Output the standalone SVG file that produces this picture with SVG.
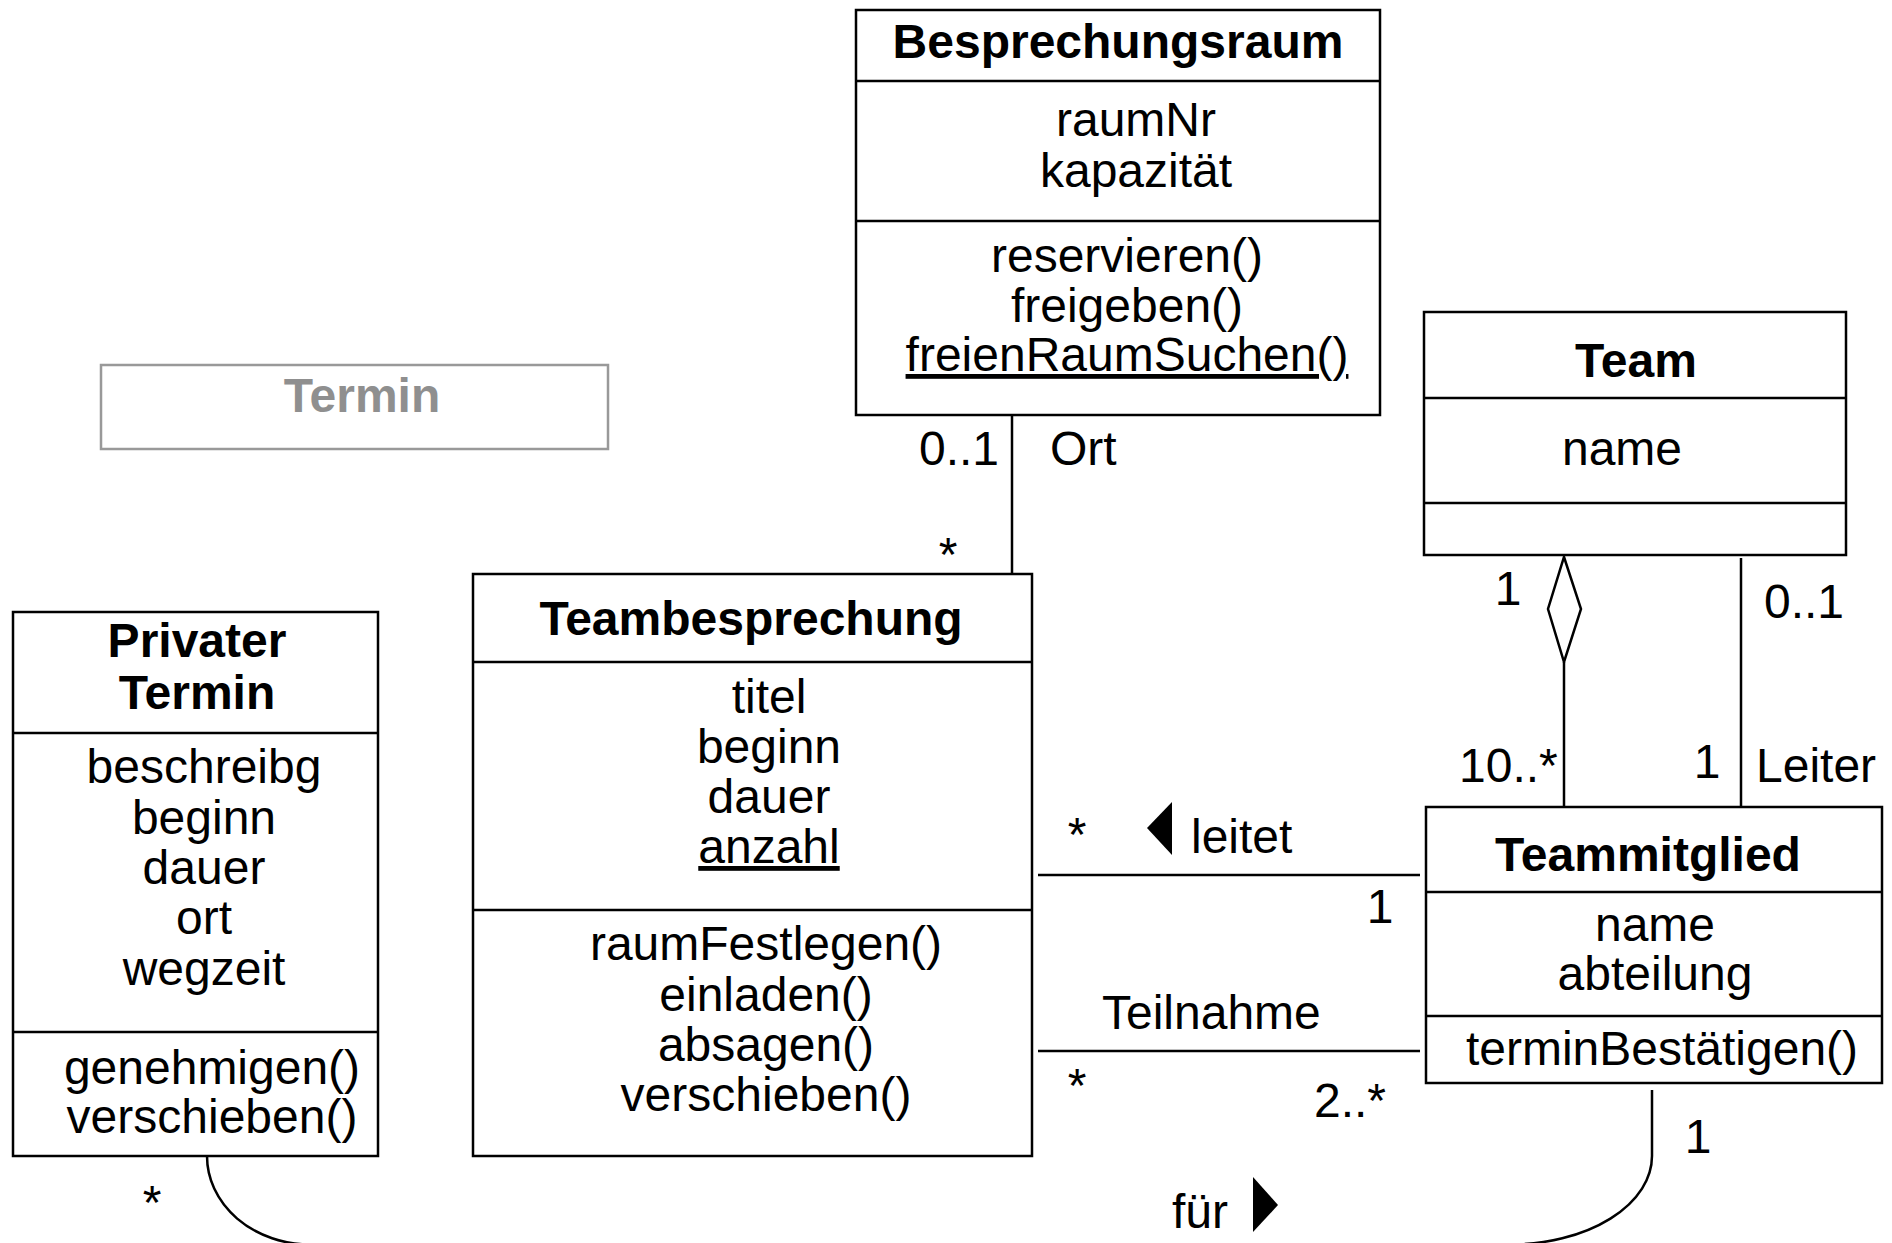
<svg xmlns="http://www.w3.org/2000/svg" width="1892" height="1243" viewBox="0 0 1892 1243">
<style>
.box{fill:#fff;stroke:#000;stroke-width:2.5}
.div{stroke:#000;stroke-width:2.5}
.t{font-family:"Liberation Sans",Arial,sans-serif;font-size:48px;fill:#000}
.c{text-anchor:middle}
.b{font-weight:bold;font-size:48px}
.u{text-decoration:underline}
.ln{fill:none;stroke:#000;stroke-width:2.5}
</style>
<rect width="1892" height="1243" fill="#fff"/>
<g id="connectors">
  <line class="ln" x1="1012" y1="415" x2="1012" y2="574"/>
  <polygon points="1564,557 1581,609 1564,662 1548,609" fill="#fff" stroke="#000" stroke-width="2.5"/>
  <line class="ln" x1="1564" y1="662" x2="1564" y2="806"/>
  <line class="ln" x1="1741" y1="558" x2="1741" y2="806"/>
  <line class="ln" x1="1038" y1="875" x2="1420" y2="875"/>
  <line class="ln" x1="1038" y1="1051" x2="1420" y2="1051"/>
  <path class="ln" d="M207,1156 A103,88.5 0 0 0 310,1244.5 L1510,1244.5 A142,88.5 0 0 0 1652,1156 L1652,1090"/>
  <polygon points="1147,828 1172,802 1172,855" fill="#000"/>
  <polygon points="1253,1177 1278,1205 1253,1232" fill="#000"/>
  <text class="t" x="919" y="465">0..1</text>
  <text class="t" x="1050" y="465">Ort</text>
  <text class="t c" x="948" y="571">*</text>
  <text class="t c" x="1508" y="605">1</text>
  <text class="t" x="1764" y="618">0..1</text>
  <text class="t" x="1459" y="782">10..*</text>
  <text class="t c" x="1707" y="778">1</text>
  <text class="t" x="1756" y="782">Leiter</text>
  <text class="t c" x="1077" y="851">*</text>
  <text class="t" x="1191" y="853">leitet</text>
  <text class="t c" x="1380" y="923">1</text>
  <text class="t" x="1102" y="1029">Teilnahme</text>
  <text class="t c" x="1077" y="1102">*</text>
  <text class="t" x="1314" y="1117">2..*</text>
  <text class="t c" x="1698" y="1153">1</text>
  <text class="t" x="1172" y="1228">für</text>
  <text class="t c" x="152" y="1219">*</text>
</g>
<g id="besprechungsraum">
  <rect class="box" x="856" y="10" width="524" height="405"/>
  <line class="div" x1="856" y1="81" x2="1380" y2="81"/>
  <line class="div" x1="856" y1="221" x2="1380" y2="221"/>
  <text class="t c b" x="1118" y="58">Besprechungsraum</text>
  <text class="t c" x="1136" y="136">raumNr</text>
  <text class="t c" x="1136" y="187">kapazität</text>
  <text class="t c" x="1127" y="272">reservieren()</text>
  <text class="t c" x="1127" y="322">freigeben()</text>
  <text class="t c u" x="1127" y="371">freienRaumSuchen()</text>
</g>
<g id="termin">
  <rect x="101" y="365" width="507" height="84" fill="#fff" stroke="#999" stroke-width="2.5"/>
  <text class="t c b" x="362" y="412" style="fill:#8f8f8f">Termin</text>
</g>
<g id="team">
  <rect class="box" x="1424" y="312" width="422" height="243"/>
  <line class="div" x1="1424" y1="398" x2="1846" y2="398"/>
  <line class="div" x1="1424" y1="503" x2="1846" y2="503"/>
  <text class="t c b" x="1636" y="377">Team</text>
  <text class="t c" x="1622" y="465">name</text>
</g>
<g id="teammitglied">
  <rect class="box" x="1426" y="807" width="456" height="276"/>
  <line class="div" x1="1426" y1="892" x2="1882" y2="892"/>
  <line class="div" x1="1426" y1="1016" x2="1882" y2="1016"/>
  <text class="t c b" x="1648" y="871">Teammitglied</text>
  <text class="t c" x="1655" y="941">name</text>
  <text class="t c" x="1655" y="990">abteilung</text>
  <text class="t c" x="1662" y="1065">terminBestätigen()</text>
</g>
<g id="teambesprechung">
  <rect class="box" x="473" y="574" width="559" height="582"/>
  <line class="div" x1="473" y1="662" x2="1032" y2="662"/>
  <line class="div" x1="473" y1="910" x2="1032" y2="910"/>
  <text class="t c b" x="751" y="635">Teambesprechung</text>
  <text class="t c" x="769" y="713">titel</text>
  <text class="t c" x="769" y="763">beginn</text>
  <text class="t c" x="769" y="813">dauer</text>
  <text class="t c u" x="769" y="863">anzahl</text>
  <text class="t c" x="766" y="960">raumFestlegen()</text>
  <text class="t c" x="766" y="1011">einladen()</text>
  <text class="t c" x="766" y="1061">absagen()</text>
  <text class="t c" x="766" y="1111">verschieben()</text>
</g>
<g id="privater-termin">
  <rect class="box" x="13" y="612" width="365" height="544"/>
  <line class="div" x1="13" y1="733" x2="378" y2="733"/>
  <line class="div" x1="13" y1="1032" x2="378" y2="1032"/>
  <text class="t c b" x="197" y="657">Privater</text>
  <text class="t c b" x="197" y="709">Termin</text>
  <text class="t c" x="204" y="783">beschreibg</text>
  <text class="t c" x="204" y="834">beginn</text>
  <text class="t c" x="204" y="884">dauer</text>
  <text class="t c" x="204" y="934">ort</text>
  <text class="t c" x="204" y="985">wegzeit</text>
  <text class="t c" x="212" y="1084">genehmigen()</text>
  <text class="t c" x="212" y="1133">verschieben()</text>
</g>
</svg>
